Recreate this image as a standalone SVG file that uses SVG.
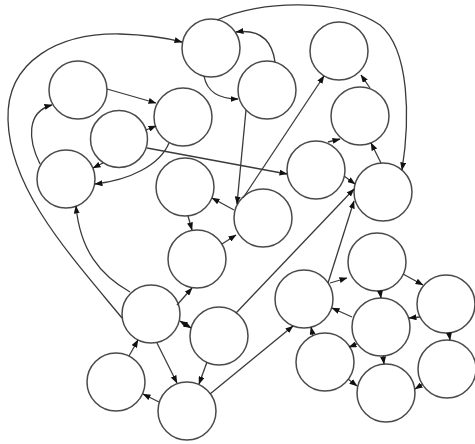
<svg xmlns="http://www.w3.org/2000/svg" width="475" height="444" viewBox="0 0 475 444">
<style>
.n{fill:#fff;stroke:#4a4a4a;stroke-width:1.5}
.e{fill:none;stroke:#3a3a3a;stroke-width:1.3;marker-end:url(#ah)}
.b{marker-start:url(#ah)}
</style>
<defs>
<marker id="ah" markerWidth="8" markerHeight="6" refX="7.5" refY="3" orient="auto-start-reverse" markerUnits="userSpaceOnUse"><path d="M0,0 L8,3 L0,6 z" fill="#111"/></marker>
</defs>
<rect width="475" height="444" fill="#fff"/>
<g id="nodes">
<g id="A"><circle class="n" cx="211" cy="48" r="29"/></g>
<g id="B"><circle class="n" cx="78" cy="90" r="29"/></g>
<g id="C"><circle class="n" cx="183" cy="117" r="29"/></g>
<g id="D"><circle class="n" cx="119" cy="139" r="28.5"/></g>
<g id="E"><circle class="n" cx="66" cy="179" r="29"/></g>
<g id="F"><circle class="n" cx="185" cy="187" r="29"/></g>
<g id="G"><circle class="n" cx="267" cy="90" r="29"/></g>
<g id="H"><circle class="n" cx="339" cy="51" r="29"/></g>
<g id="I"><circle class="n" cx="360" cy="116" r="29"/></g>
<g id="J"><circle class="n" cx="316" cy="170" r="29"/></g>
<g id="K"><circle class="n" cx="383" cy="192" r="29"/></g>
<g id="L"><circle class="n" cx="263" cy="218" r="29"/></g>
<g id="M"><circle class="n" cx="197" cy="259" r="29"/></g>
<g id="N"><circle class="n" cx="151" cy="314" r="29"/></g>
<g id="O"><circle class="n" cx="219" cy="336" r="29"/></g>
<g id="P"><circle class="n" cx="116" cy="382" r="29"/></g>
<g id="Q"><circle class="n" cx="187" cy="411" r="29"/></g>
<g id="R"><circle class="n" cx="304" cy="299" r="29"/></g>
<g id="S"><circle class="n" cx="377" cy="262" r="29"/></g>
<g id="T"><circle class="n" cx="446" cy="304" r="29"/></g>
<g id="U"><circle class="n" cx="381" cy="327" r="29"/></g>
<g id="V"><circle class="n" cx="325" cy="362" r="29"/></g>
<g id="W"><circle class="n" cx="447" cy="369" r="29"/></g>
<g id="X"><circle class="n" cx="386" cy="393" r="29"/></g>
</g>
<g id="connectors">
<path class="e" d="M122,318 C70,255 10,190 8,120 C6,60 60,33 120,34 Q155,35 182,42"/>
<path class="e" d="M130,292 C100,275 80,250 76,206"/>
<path class="e" d="M40,164 C28,140 26,112 52,105"/>
<path class="e" d="M107,89 L156,103"/>
<path class="e" d="M146,130 L156,126"/>
<path class="e" d="M169,143 C160,165 130,180 95,184"/>
<path class="e" d="M103,163 L93,168"/>
<path class="e" d="M147,148 L287,174"/>
<path class="e" d="M204,76 C207,92 220,99 238,99"/>
<path class="e" d="M275,62 C272,40 260,29 236,32"/>
<path class="e" d="M217,20 C260,0 340,-2 380,25 C410,50 410,120 402,170"/>
<path class="e" d="M246,110 L237,204"/>
<path class="e" d="M243,198 L324,76"/>
<path class="e" d="M370,88 L361,75"/>
<path class="e" d="M328,142 L340,139"/>
<path class="e" d="M381,163 L371,143"/>
<path class="e" d="M344,176 L355,184"/>
<path class="e" d="M236,313 L354,189"/>
<path class="e" d="M328,283 L354,201"/>
<path class="e" d="M210,394 L293,326"/>
<path class="e" d="M177,305 L192,288"/>
<path class="e" d="M188,216 L192,230"/>
<path class="e" d="M222,244 L236,235"/>
<path class="e" d="M234,210 L212,198"/>
<path class="e b" d="M180,321 L191,328"/>
<path class="e" d="M157,343 L177,383"/>
<path class="e" d="M207,362 L199,384"/>
<path class="e" d="M159,402 L143,394"/>
<path class="e" d="M129,356 L138,340"/>
<path class="e" d="M330,283 L347,278"/>
<path class="e" d="M352,317 L332,308"/>
<path class="e" d="M313,336 L311,327"/>
<path class="e" d="M380,291 L381,298"/>
<path class="e" d="M403,274 L423,285"/>
<path class="e" d="M420,317 L409,318"/>
<path class="e" d="M449,333 L450,340"/>
<path class="e" d="M357,344 L349,347"/>
<path class="e" d="M383,356 L384,364"/>
<path class="e" d="M348,379 L357,386"/>
<path class="e" d="M423,384 L415,389"/>
</g>
</svg>
